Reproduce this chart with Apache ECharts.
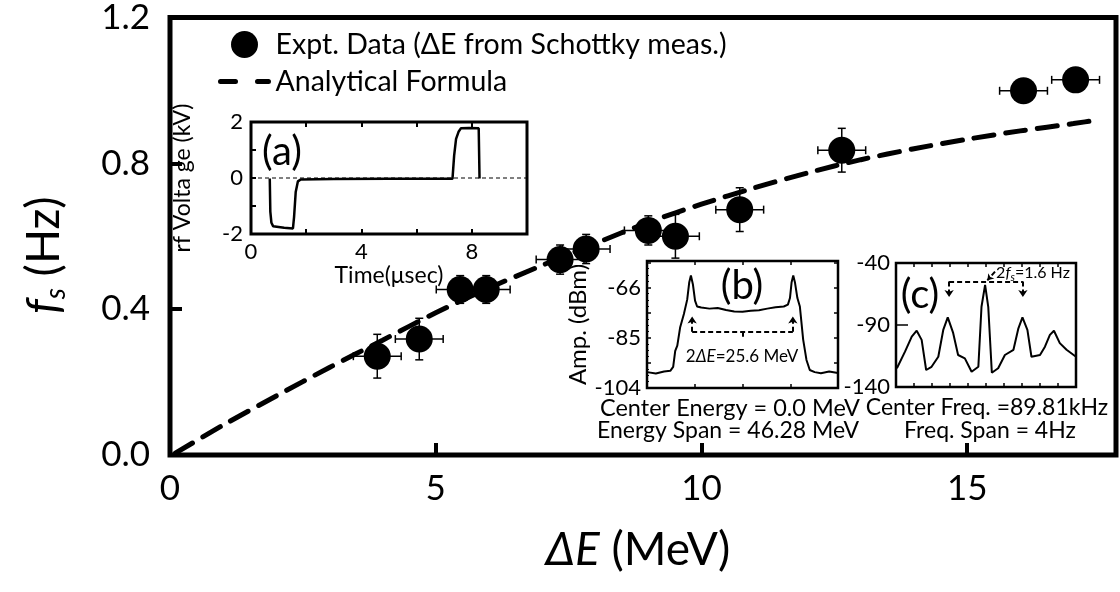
<!DOCTYPE html>
<html>
<head>
<meta charset="utf-8">
<script src="https://cdn.jsdelivr.net/npm/echarts@6/dist/echarts.min.js"></script>
<style>
  html, body { margin: 0; padding: 0; background: #fff; }
  #main { width: 1120px; height: 592px; }
</style>
</head>
<body>
<div id="main"></div>
<script>
// main plot: measured synchrotron frequency vs energy spread
const deltaE = [3.9, 4.69, 5.46, 5.95, 7.34, 7.83, 9.0, 9.51, 10.72, 12.64, 16.06, 17.04]
const fs = [0.271, 0.318, 0.454, 0.454, 0.536, 0.565, 0.616, 0.600, 0.673, 0.836, 0.999, 1.029]
const deltaEErr = [0.45, 0.45, 0.45, 0.45, 0.45, 0.45, 0.45, 0.45, 0.45, 0.45, 0.45, 0.45]
const fsErr = [0.06, 0.057, 0.038, 0.038, 0.04, 0.04, 0.04, 0.06, 0.06, 0.06, 0, 0]

// analytical formula curve
const formulaE = [0.1, 1, 2, 3, 4, 5, 6, 7, 8, 9, 10, 11, 12, 13, 14, 15, 16, 17, 17.5]
const formulaFs = [0.005, 0.082, 0.162, 0.24, 0.315, 0.39, 0.458, 0.52, 0.58, 0.638, 0.688, 0.733, 0.774, 0.81, 0.84, 0.866, 0.889, 0.909, 0.92]

// inset (a): rf voltage waveform
const aTime = [0.68, 0.70, 0.74, 0.80, 0.87, 1.2, 1.52, 1.56, 1.62, 1.70, 1.80, 3.0, 5.0, 7.30, 7.36, 7.43, 7.52, 7.61, 7.9, 8.25, 8.28]
const aVolt = [-0.02, -1.2, -1.6, -1.72, -1.76, -1.78, -1.8, -1.4, -0.5, -0.12, -0.05, -0.04, -0.03, -0.03, 0.8, 1.4, 1.65, 1.78, 1.79, 1.78, -0.02]
const aBaseT = [0, 10]
const aBaseV = [0, 0]

// inset (b): schottky spectrum vs energy
const bEnergy = [-23.1, -21, -19, -17.5, -16.8, -16.3, -15.8, -15.1, -14.2, -13.4, -12.9, -12.5, -12.0, -11.5, -11.0, -10, -8, -6, -4, -2, 0, 2, 4, 6, 8, 10, 11, 11.5, 11.9, 12.3, 12.7, 13.3, 13.9, 14.7, 15.5, 16.3, 17.5, 19, 21, 23.1]
const bAmp = [-98, -98.5, -97.8, -97.5, -96, -90, -88, -81, -76, -70.6, -64, -61.5, -65, -71, -73.2, -73.6, -74, -73.8, -74.5, -75.1, -75.2, -74.8, -74.6, -74, -73.5, -73.2, -72.5, -70, -64, -61.5, -64, -70, -73.2, -85.7, -93.4, -97.2, -98, -98.4, -97.8, -98.3]
const bBracket = { left: -12.2, right: 12.2, y: -82.7, tip: -77, mid: -85 }

// inset (c): schottky spectrum vs frequency
const cFreq = [-1.98, -1.80, -1.65, -1.54, -1.43, -1.33, -1.21, -1.06, -0.95, -0.85, -0.73, -0.62, -0.47, -0.32, -0.17, -0.10, -0.02, 0.05, 0.13, 0.27, 0.42, 0.61, 0.72, 0.81, 0.92, 1.01, 1.20, 1.31, 1.42, 1.51, 1.64, 1.79, 2.0]
const cAmp = [-124.9, -111.5, -99.4, -94.6, -102, -126.3, -123.7, -115.6, -94, -83.8, -96.4, -114.2, -116.9, -127.7, -123.7, -75.3, -57.7, -75.3, -128.5, -124.9, -114.2, -110, -92.7, -83.8, -94, -115.6, -114.2, -107.5, -98, -94.6, -104.6, -110, -115.6]
const cBracket = { left: -0.82, right: 0.82, y: -55, tip: -67.5 }

const FONT = 'Lato'
const dataName = 'Expt. Data (\u0394E from Schottky meas.)'
const lineName = 'Analytical Formula'

function zip (xs, ys) {
  return xs.map((x, i) => [x, ys[i]])
}

// hidden axis line, never snapped onto the other axis' zero
const noLine = { show: false, onZero: false }

function insetX (grid, extra) {
  return Object.assign({
    type: 'value',
    gridIndex: grid,
    axisLine: noLine,
    axisTick: { inside: true, length: 4, lineStyle: { color: '#000', width: 1.5 } },
    axisLabel: { show: false },
    splitLine: { show: false }
  }, extra)
}

const dashedMark = {
  silent: true,
  symbol: ['none', 'none'],
  animation: false,
  label: { show: false },
  lineStyle: { color: '#000', width: 2, type: [5, 3] }
}

const chart = echarts.init(document.getElementById('main'))

const option = {
  animation: false,
  backgroundColor: '#fff',
  textStyle: { fontFamily: FONT, color: '#000' },
  legend: {
    data: [
      { name: dataName, icon: 'circle' },
      { name: lineName, itemStyle: { opacity: 0 } }
    ],
    orient: 'vertical',
    left: 218,
    top: 30,
    padding: 0,
    itemWidth: 48,
    itemHeight: 27,
    itemGap: 8,
    lineStyle: { type: [15, 22], width: 5 },
    textStyle: { fontFamily: FONT, fontSize: 28.5, color: '#000', lineHeight: 27, padding: [0, 0, 0, 2] },
    selectedMode: false
  },
  grid: [
    { left: 170, top: 13, width: 946, height: 442, show: true, borderColor: '#000', borderWidth: 5, backgroundColor: 'transparent' },
    { left: 251, top: 122, width: 276, height: 112, show: true, borderColor: '#000', borderWidth: 3, backgroundColor: '#fff' },
    { left: 647, top: 261, width: 191, height: 127, show: true, borderColor: '#000', borderWidth: 2.5, backgroundColor: '#fff' },
    { left: 896, top: 263, width: 180, height: 124, show: true, borderColor: '#000', borderWidth: 2.5, backgroundColor: '#fff' }
  ],
  xAxis: [
    {
      type: 'value',
      gridIndex: 0,
      min: 0,
      max: 17.8,
      interval: 5,
      axisLine: noLine,
      axisTick: { inside: true, length: 12, lineStyle: { color: '#000', width: 4 } },
      axisLabel: {
        fontSize: 35, color: '#000', margin: 16,
        formatter: v => (v % 5 === 0 ? String(v) : '')
      },
      splitLine: { show: false },
      name: '{i|\u0394E} (MeV)',
      nameLocation: 'middle',
      nameGap: 72,
      nameTextStyle: {
        fontSize: 46, color: '#000', padding: [0, 10, 0, 0],
        rich: { i: { fontSize: 46, fontStyle: 'italic', fontFamily: FONT } }
      }
    },
    insetX(1, {
      min: 0, max: 10, interval: 2,
      axisTick: { inside: true, length: 5, lineStyle: { color: '#000', width: 2 } },
      axisLabel: {
        show: true, fontSize: 22, color: '#000', margin: 7,
        formatter: v => (v === 0 || v === 4 || v === 8 ? String(v) : '')
      },
      name: 'Time(\u03bcsec)',
      nameLocation: 'middle',
      nameGap: 27,
      nameTextStyle: { fontSize: 23, color: '#000' }
    }),
    insetX(1, {
      min: 0, max: 10, interval: 2, position: 'top',
      axisTick: { inside: true, length: 5, lineStyle: { color: '#000', width: 2 } }
    }),
    insetX(2, { min: -23.14, max: 23.14, interval: 11.57 }),
    insetX(2, { min: -23.14, max: 23.14, interval: 11.57, position: 'top' }),
    insetX(3, { min: -2, max: 2, interval: 0.4 }),
    insetX(3, { min: -2, max: 2, interval: 0.4, position: 'top' })
  ],
  yAxis: [
    {
      type: 'value',
      gridIndex: 0,
      min: 0,
      max: 1.2,
      interval: 0.4,
      axisLine: noLine,
      axisTick: { inside: true, length: 12, lineStyle: { color: '#000', width: 4 } },
      axisLabel: { fontSize: 35, color: '#000', margin: 20, padding: [16, 0, 0, 0], formatter: v => v.toFixed(1) },
      splitLine: { show: false },
      name: '{i|f}{s|s} (Hz)',
      nameLocation: 'middle',
      nameGap: 100,
      nameTextStyle: {
        fontSize: 46, color: '#000', padding: [0, 38, 0, 0],
        rich: {
          i: { fontSize: 46, fontStyle: 'italic', fontFamily: FONT, lineHeight: 52 },
          s: { fontSize: 28, fontStyle: 'italic', fontFamily: FONT, lineHeight: 30, verticalAlign: 'bottom' }
        }
      }
    },
    {
      type: 'value',
      gridIndex: 1,
      min: -2,
      max: 2,
      interval: 1,
      axisLine: noLine,
      axisTick: { inside: true, length: 5, lineStyle: { color: '#000', width: 2 } },
      axisLabel: { fontSize: 22, color: '#000', margin: 8, formatter: v => (v % 2 === 0 ? String(v) : '') },
      splitLine: { show: false },
      name: 'rf Volta ge (kV)',
      nameLocation: 'middle',
      nameGap: 57,
      nameTextStyle: { fontSize: 23, color: '#000' }
    },
    {
      type: 'value',
      gridIndex: 2,
      min: -104,
      max: -56,
      interval: 9.5,
      axisLine: noLine,
      axisTick: { inside: true, length: 4, lineStyle: { color: '#000', width: 1.5 } },
      minorTick: { show: true, splitNumber: 4, length: 2, lineStyle: { color: '#000' } },
      axisLabel: { fontSize: 22, color: '#000', margin: 6, formatter: v => ((v + 104) % 19 === 0 ? String(v) : '') },
      splitLine: { show: false },
      name: 'Amp. (dBm)',
      nameLocation: 'middle',
      nameGap: 50,
      nameTextStyle: { fontSize: 24, color: '#000' }
    },
    {
      type: 'value',
      gridIndex: 2,
      min: -104,
      max: -56,
      interval: 9.5,
      position: 'right',
      axisLine: noLine,
      axisTick: { inside: true, length: 4, lineStyle: { color: '#000', width: 1.5 } },
      axisLabel: { show: false },
      splitLine: { show: false }
    },
    {
      type: 'value',
      gridIndex: 3,
      min: -140,
      max: -40,
      interval: 50,
      axisLine: noLine,
      axisTick: { inside: true, length: 12, lineStyle: { color: '#000', width: 1.5 } },
      axisLabel: { fontSize: 22, color: '#000', margin: 6 },
      splitLine: { show: false }
    }
  ],
  series: [
    {
      name: lineName,
      type: 'line',
      xAxisIndex: 0,
      yAxisIndex: 0,
      data: zip(formulaE, formulaFs),
      smooth: 0.3,
      showSymbol: false,
      symbol: 'none',
      z: 3,
      lineStyle: { color: '#000', width: 5, type: [20, 12], cap: 'round' },
      itemStyle: { color: '#000' }
    },
    {
      name: 'errors',
      type: 'custom',
      xAxisIndex: 0,
      yAxisIndex: 0,
      z: 4,
      data: deltaE.map((x, i) => [x, fs[i], deltaEErr[i], fsErr[i]]),
      renderItem: function (params, api) {
        const x = api.value(0)
        const y = api.value(1)
        const ex = api.value(2)
        const ey = api.value(3)
        const l = api.coord([x - ex, y])
        const r = api.coord([x + ex, y])
        const t = api.coord([x, y + ey])
        const b = api.coord([x, y - ey])
        const cap = 4
        const style = { stroke: '#000', lineWidth: 1.5 }
        const shapes = [
          { type: 'line', shape: { x1: l[0], y1: l[1], x2: r[0], y2: r[1] }, style },
          { type: 'line', shape: { x1: l[0], y1: l[1] - cap, x2: l[0], y2: l[1] + cap }, style },
          { type: 'line', shape: { x1: r[0], y1: r[1] - cap, x2: r[0], y2: r[1] + cap }, style }
        ]
        if (ey > 0) {
          shapes.push(
            { type: 'line', shape: { x1: t[0], y1: t[1], x2: b[0], y2: b[1] }, style },
            { type: 'line', shape: { x1: t[0] - cap, y1: t[1], x2: t[0] + cap, y2: t[1] }, style },
            { type: 'line', shape: { x1: b[0] - cap, y1: b[1], x2: b[0] + cap, y2: b[1] }, style }
          )
        }
        return { type: 'group', children: shapes }
      }
    },
    {
      name: dataName,
      type: 'scatter',
      xAxisIndex: 0,
      yAxisIndex: 0,
      data: zip(deltaE, fs),
      symbol: 'circle',
      symbolSize: 27,
      z: 5,
      itemStyle: { color: '#000', opacity: 1 }
    },
    {
      name: 'a-base',
      type: 'line',
      xAxisIndex: 1,
      yAxisIndex: 1,
      data: zip(aBaseT, aBaseV),
      showSymbol: false,
      symbol: 'none',
      lineStyle: { color: '#000', width: 1, type: [4, 3] }
    },
    {
      name: 'a-trace',
      type: 'line',
      xAxisIndex: 1,
      yAxisIndex: 1,
      data: zip(aTime, aVolt),
      showSymbol: false,
      symbol: 'none',
      lineStyle: { color: '#000', width: 2.5 }
    },
    {
      name: 'b-trace',
      type: 'line',
      xAxisIndex: 3,
      yAxisIndex: 2,
      data: zip(bEnergy, bAmp),
      showSymbol: false,
      symbol: 'none',
      lineStyle: { color: '#000', width: 2 },
      markLine: Object.assign({}, dashedMark, {
        data: [
          [{ coord: [bBracket.left, bBracket.y] }, { coord: [bBracket.right, bBracket.y] }],
          [{ coord: [bBracket.left, bBracket.y] }, { coord: [bBracket.left, bBracket.tip], symbol: 'arrow', symbolSize: 7 }],
          [{ coord: [bBracket.right, bBracket.y] }, { coord: [bBracket.right, bBracket.tip], symbol: 'arrow', symbolSize: 7 }],
          [{ coord: [0, bBracket.y] }, { coord: [0, bBracket.mid] }]
        ]
      })
    },
    {
      name: 'c-trace',
      type: 'line',
      xAxisIndex: 5,
      yAxisIndex: 4,
      data: zip(cFreq, cAmp),
      showSymbol: false,
      symbol: 'none',
      lineStyle: { color: '#000', width: 2 },
      markLine: Object.assign({}, dashedMark, {
        data: [
          [{ coord: [cBracket.left, cBracket.y] }, { coord: [cBracket.right, cBracket.y] }],
          [{ coord: [cBracket.left, cBracket.y] }, { coord: [cBracket.left, cBracket.tip], symbol: 'arrow', symbolSize: 7 }],
          [{ coord: [cBracket.right, cBracket.y] }, { coord: [cBracket.right, cBracket.tip], symbol: 'arrow', symbolSize: 7 }],
          [{ coord: [0.2, -47] }, { coord: [0.03, -54], symbol: 'arrow', symbolSize: 6 }]
        ]
      })
    }
  ],
  graphic: [
    { type: 'text', x: 282, y: 152, z: 10, style: { text: '(a)', fontSize: 40, fontFamily: FONT, fill: '#000', textAlign: 'center', textVerticalAlign: 'middle' } },
    { type: 'text', x: 742, y: 286, z: 10, style: { text: '(b)', fontSize: 40, fontFamily: FONT, fill: '#000', textAlign: 'center', textVerticalAlign: 'middle' } },
    { type: 'text', x: 920, y: 295, z: 10, style: { text: '(c)', fontSize: 40, fontFamily: FONT, fill: '#000', textAlign: 'center', textVerticalAlign: 'middle' } },
    {
      type: 'text', x: 742, y: 357, z: 10,
      style: {
        text: '2{i|\u0394E}=25.6 MeV', fontSize: 17, fontFamily: FONT, fill: '#000', textAlign: 'center', textVerticalAlign: 'middle',
        rich: { i: { fontSize: 17, fontStyle: 'italic', fontFamily: FONT } }
      }
    },
    {
      type: 'text', x: 1033, y: 273, z: 10,
      style: {
        text: '2{i|f}{s|s}=1.6 Hz', fontSize: 16, fontFamily: FONT, fill: '#000', textAlign: 'center', textVerticalAlign: 'middle',
        rich: {
          i: { fontSize: 16, fontStyle: 'italic', fontFamily: FONT, lineHeight: 19 },
          s: { fontSize: 11, fontStyle: 'italic', fontFamily: FONT, lineHeight: 11, verticalAlign: 'bottom' }
        }
      }
    },
    { type: 'text', x: 730, y: 408, z: 10, style: { text: 'Center Energy = 0.0 MeV', fontSize: 23.5, fontFamily: FONT, fill: '#000', textAlign: 'center', textVerticalAlign: 'middle' } },
    { type: 'text', x: 728, y: 431, z: 10, style: { text: 'Energy Span = 46.28 MeV', fontSize: 23, fontFamily: FONT, fill: '#000', textAlign: 'center', textVerticalAlign: 'middle' } },
    { type: 'text', x: 987, y: 408, z: 10, style: { text: 'Center Freq. =89.81kHz', fontSize: 23, fontFamily: FONT, fill: '#000', textAlign: 'center', textVerticalAlign: 'middle' } },
    { type: 'text', x: 990, y: 431, z: 10, style: { text: 'Freq. Span = 4Hz', fontSize: 23, fontFamily: FONT, fill: '#000', textAlign: 'center', textVerticalAlign: 'middle' } }
  ]
}

chart.setOption(option)
window.onresize = chart.resize
</script>
</body>
</html>
